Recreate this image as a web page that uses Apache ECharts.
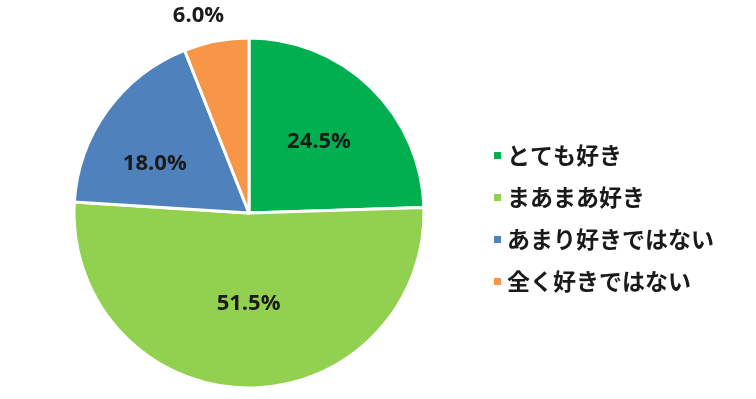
<!DOCTYPE html>
<html><head><meta charset="utf-8">
<script src="https://cdn.jsdelivr.net/npm/echarts@6/dist/echarts.min.js"></script>
<style>html,body{margin:0;padding:0;background:#fff}#c{width:756px;height:399px}</style>
</head><body><div id="c"></div>
<script>
const categories = ['とても好き', 'まあまあ好き', 'あまり好きではない', '全く好きではない'];
const values = [24.5, 51.5, 18.0, 6.0];

// styling (not data)
const colors = ['#00B050', '#92D050', '#4F81BD', '#F79646'];
const labelNudge = [[7, -6], [1, 0], [-21, 4], [14, -19]];

const chart = echarts.init(document.getElementById('c'), null, {renderer: 'canvas'});
const data = categories.map((name, i) => {
  const item = {name: name, value: values[i], itemStyle: {color: colors[i]}, label: {offset: labelNudge[i]}};
  if (i === 3) {
    item.label.position = 'outside';
    item.labelLine = {show: false, length: 6, length2: 0};
  }
  return item;
});
chart.setOption({
  animation: false,
  legend: {
    orient: 'vertical', left: 487, top: 139,
    itemWidth: 9, itemHeight: 9, itemGap: 19,
    icon: 'rect',
    textStyle: {fontSize: 23, fontWeight: 'bold', color: '#1a1a1a', fontFamily: '"Noto Sans CJK JP", sans-serif'},
    data: categories
  },
  series: [{
    type: 'pie',
    center: [249, 213],
    radius: [0, 175],
    startAngle: 90,
    clockwise: true,
    itemStyle: {borderColor: '#fff', borderWidth: 3},
    label: {
      show: true, position: 'inside',
      formatter: p => p.value.toFixed(1) + '%',
      fontSize: 22, fontWeight: 'bold', color: '#1a1a1a',
      fontFamily: '"Open Sans", "Liberation Sans", sans-serif'
    },
    labelLine: {show: false},
    data: data
  }]
});
</script></body></html>
